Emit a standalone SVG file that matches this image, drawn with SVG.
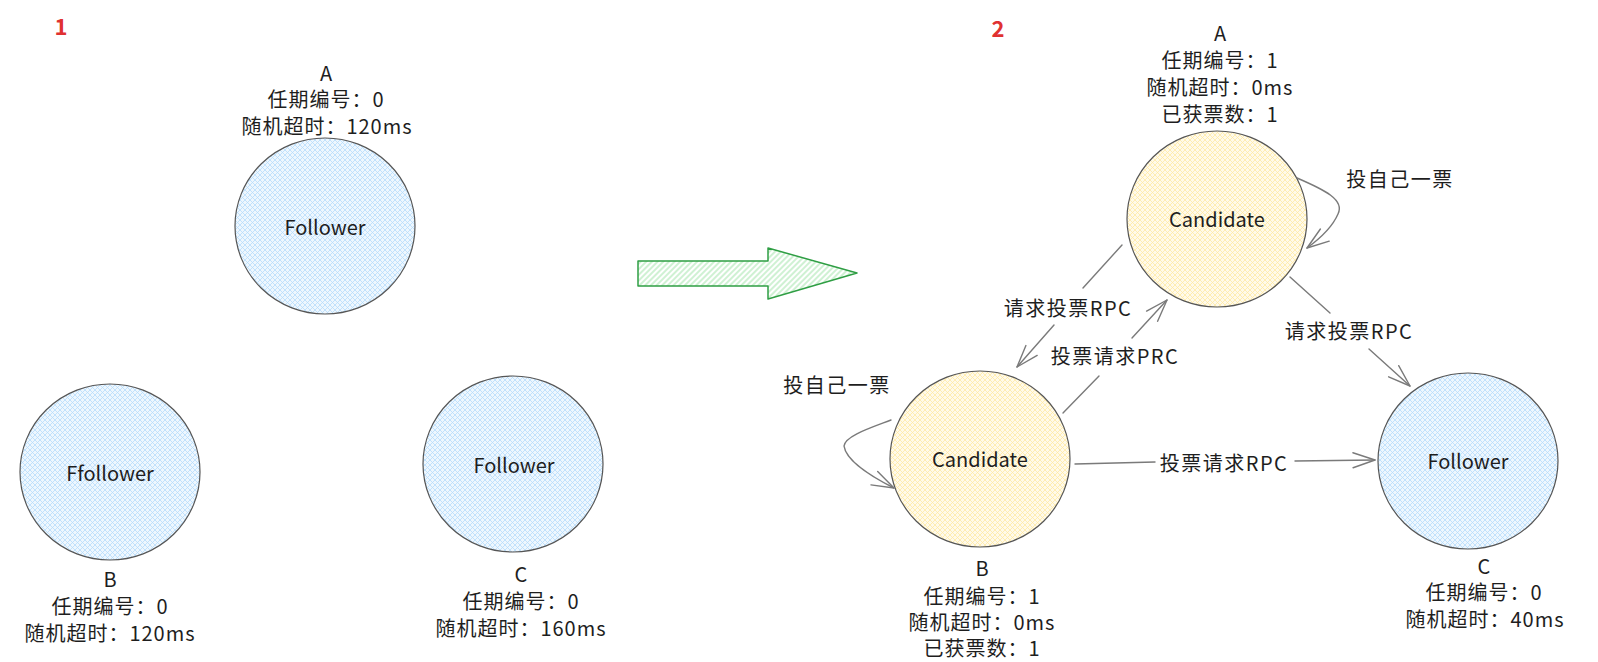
<svg xmlns="http://www.w3.org/2000/svg" width="1598" height="662" viewBox="0 0 1598 662">
<style>
  text { font-family: "Noto Sans CJK SC", "Noto Sans", sans-serif; fill: #1e1e1e; text-anchor: middle; dominant-baseline: central; }
  .lbl { font-size: 20px; letter-spacing: 1px; }
  .elbl { font-size: 20px; letter-spacing: 1.5px; }
  .name { font-size: 20px; }
  .num { font-size: 22px; fill: #e03131; font-weight: bold; }
  .blue { fill: url(#hatchBlue); stroke: #555; stroke-width: 1.2; }
  .yellow { fill: url(#hatchYellow); stroke: #555; stroke-width: 1.2; }
  .edge { fill: none; stroke: #7a7a7a; stroke-width: 1.4; stroke-linecap: round; }
</style>
<defs>
  <pattern id="hatchBlue" patternUnits="userSpaceOnUse" width="5" height="5">
    <rect width="5" height="5" fill="#eef7fe"/>
    <path d="M0,5 L5,0 M0,0 L5,5" stroke="#b5dcfb" stroke-width="0.8"/>
  </pattern>
  <pattern id="hatchYellow" patternUnits="userSpaceOnUse" width="5" height="5">
    <rect width="5" height="5" fill="#fffaea"/>
    <path d="M0,5 L5,0 M0,0 L5,5" stroke="#ffeaa3" stroke-width="0.8"/>
  </pattern>
  <pattern id="hatchGreen" patternUnits="userSpaceOnUse" width="4" height="4" patternTransform="rotate(-45)">
    <rect width="4" height="4" fill="#ffffff"/>
    <path d="M0,2 L4,2" stroke="#a8e6b0" stroke-width="1.1"/>
  </pattern>
  <marker id="open" markerUnits="userSpaceOnUse" viewBox="-24 -10 26 20" refX="0" refY="0" markerWidth="26" markerHeight="20" orient="auto">
    <path d="M-22,-7.5 L0,0 L-22,7.5" fill="none" stroke="#7a7a7a" stroke-width="1.4" stroke-linecap="round" stroke-linejoin="round"/>
  </marker>
</defs>
<rect width="1598" height="662" fill="#ffffff"/>

<text class="num" x="61" y="25">1</text>
<text class="num" x="998" y="27">2</text>

<g id="transition-arrow">
  <polygon points="638,261 768,261 768,248 857,273 768,299 768,286 638,286" fill="url(#hatchGreen)" stroke="#2f9e44" stroke-width="1.5" stroke-linejoin="round"/>
</g>

<!-- Panel 1 -->
<g id="node-A1">
  <text class="name" x="326" y="72">A</text>
  <text class="lbl" x="326" y="98">任期编号：0</text>
  <text class="lbl" x="327" y="125">随机超时：120ms</text>
  <ellipse class="blue" cx="325" cy="226" rx="90" ry="88"/>
  <text class="name" x="325" y="226">Follower</text>
</g>
<g id="node-B1">
  <ellipse class="blue" cx="110" cy="472" rx="90" ry="88"/>
  <text class="name" x="110" y="472">Ffollower</text>
  <text class="name" x="110" y="578">B</text>
  <text class="lbl" x="110" y="605">任期编号：0</text>
  <text class="lbl" x="110" y="632">随机超时：120ms</text>
</g>
<g id="node-C1">
  <ellipse class="blue" cx="513" cy="464" rx="90" ry="88"/>
  <text class="name" x="514" y="464">Follower</text>
  <text class="name" x="521" y="573">C</text>
  <text class="lbl" x="521" y="600">任期编号：0</text>
  <text class="lbl" x="521" y="627">随机超时：160ms</text>
</g>

<!-- Panel 2 -->
<g id="node-A2">
  <text class="name" x="1220" y="32">A</text>
  <text class="lbl" x="1220" y="59">任期编号：1</text>
  <text class="lbl" x="1220" y="86">随机超时：0ms</text>
  <text class="lbl" x="1220" y="113">已获票数：1</text>
  <ellipse class="yellow" cx="1217" cy="219" rx="90" ry="88"/>
  <text class="name" x="1217" y="218">Candidate</text>
</g>
<g id="node-B2">
  <ellipse class="yellow" cx="980" cy="459" rx="90" ry="88"/>
  <text class="name" x="980" y="458">Candidate</text>
  <text class="name" x="982" y="567">B</text>
  <text class="lbl" x="982" y="595">任期编号：1</text>
  <text class="lbl" x="982" y="621">随机超时：0ms</text>
  <text class="lbl" x="982" y="647">已获票数：1</text>
</g>
<g id="node-C2">
  <ellipse class="blue" cx="1468" cy="461" rx="90" ry="88"/>
  <text class="name" x="1468" y="460">Follower</text>
  <text class="name" x="1484" y="565">C</text>
  <text class="lbl" x="1484" y="591">任期编号：0</text>
  <text class="lbl" x="1485" y="618">随机超时：40ms</text>
</g>

<g id="connectors">
  <path class="edge" d="M1122,245 L1083,288 M1054,325 L1017,367" marker-end="url(#open)"/>
  <text class="elbl" x="1068" y="307">请求投票RPC</text>
  <path class="edge" d="M1063,413 L1099,376 M1132,338 L1167,300" marker-end="url(#open)"/>
  <text class="elbl" x="1115" y="355">投票请求PRC</text>
  <path class="edge" d="M1290,277 L1330,313 M1369,349 L1410,386" marker-end="url(#open)"/>
  <text class="elbl" x="1349" y="330">请求投票RPC</text>
  <path class="edge" d="M1075,464 L1155,462 M1295,461 L1375,460" marker-end="url(#open)"/>
  <text class="elbl" x="1224" y="462">投票请求RPC</text>
  <path class="edge" d="M1297,178 C1325,190 1345,200 1338,214 C1332,228 1318,240 1307,248" marker-end="url(#open)"/>
  <text class="elbl" x="1400" y="178">投自己一票</text>
  <path class="edge" d="M891,420 C870,428 845,436 844,446 C846,460 870,476 894,488" marker-end="url(#open)"/>
  <text class="elbl" x="837" y="384">投自己一票</text>
</g>
</svg>
